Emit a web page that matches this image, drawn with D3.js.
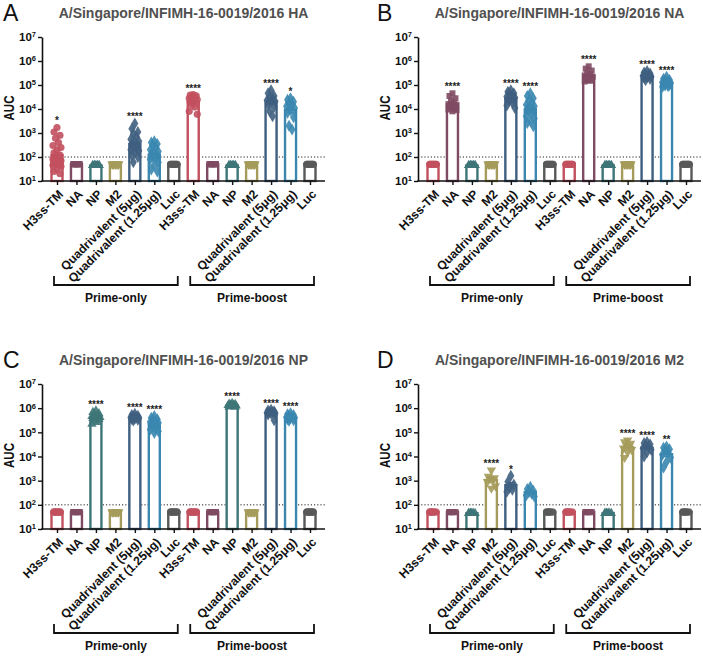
<!DOCTYPE html>
<html><head><meta charset="utf-8">
<script src="https://cdn.jsdelivr.net/npm/d3@7"></script>
<style>body{margin:0;background:#fff}svg{display:block;font-family:"Liberation Sans",Arial,sans-serif}</style>
</head><body><svg id="c" width="703" height="656"></svg>
<script>
const categories = ["H3ss-TM","NA","NP","M2","Quadrivalent (5μg)","Quadrivalent (1.25μg)","Luc",
                    "H3ss-TM","NA","NP","M2","Quadrivalent (5μg)","Quadrivalent (1.25μg)","Luc"];
const groupLabels = ["Prime-only","Prime-boost"];
const yTicks = [1e1,1e2,1e3,1e4,1e5,1e6,1e7];
const cutoff = 100;

const haValues = [
  [1700,1100,800,600,400,300,250,200,150,120,100,90,80,70,60,55,50,50,50,45,40,30,25,20],
  [50,50,50,50,50,50,50,50,50,50],
  [45,45,45,45,45,45,45,45,45,45],
  [50,50,50,50,50,50,50,50,50,50],
  [2500,1500,1100,900,700,550,450,400,350,300,260,220,200,180,150,120,100,60],
  [450,400,350,300,250,200,170,150,130,110,100,90,80,60,45,30,25],
  [50,50,50,50,50,50,50,50,50,50],
  [40000,38000,35000,32000,30000,28000,25000,22000,20000,18000,15000,12000,8000,6000],
  [50,50,50,50,50,50,50,50,50,50],
  [45,45,45,45,45,45,45,45,45,45],
  [50,50,50,50,50,50,50,50,50,50],
  [60000,45000,35000,30000,26000,23000,21000,19000,16000,12000,8000,5000],
  [28000,24000,20000,17000,15000,13000,11000,9000,7000,4500,2000,1400],
  [50,50,50,50,50,50,50,50,50,50]
];
const haStars = ["*","","","","****","","","****","","","","****","*",""];

const naValues = [
  [50,50,50,50,50,50,50,50,50,50],
  [45000,35000,28000,22000,18000,16000,15000,14000,13000,12000,11000,10000,9500,9000,8000],
  [45,45,45,45,45,45,45,45,45,45],
  [50,50,50,50,50,50,50,50,50,50],
  [60000,52000,45000,40000,36000,33000,30000,28000,26000,24000,22000,18000,14000,11000],
  [45000,35000,28000,22000,18000,15000,13000,11000,10000,9000,8000,6500,5000,4000,3200,2600,1900],
  [50,50,50,50,50,50,50,50,50,50],
  [50,50,50,50,50,50,50,50,50,50],
  [600000,480000,400000,330000,280000,250000,220000,200000,180000,170000,160000,150000,140000],
  [45,45,45,45,45,45,45,45,45,45],
  [50,50,50,50,50,50,50,50,50,50],
  [380000,330000,300000,280000,260000,240000,220000,210000,200000,180000,160000],
  [220000,180000,160000,150000,140000,130000,120000,115000,110000,100000,95000,90000,85000],
  [50,50,50,50,50,50,50,50,50,50]
];
const naStars = ["","****","","","****","****","","","****","","","****","****",""];

const npValues = [
  [50,50,50,50,50,50,50,50,50,50],
  [50,50,50,50,50,50,50,50,50,50],
  [780000,680000,600000,550000,500000,460000,420000,400000,380000,350000,300000,260000,220000],
  [50,50,50,50,50,50,50,50,50,50],
  [580000,520000,480000,450000,430000,410000,390000,370000,350000,330000,310000],
  [470000,400000,350000,320000,290000,270000,250000,230000,210000,190000,170000,150000,130000,110000,95000],
  [50,50,50,50,50,50,50,50,50,50],
  [50,50,50,50,50,50,50,50,50,50],
  [50,50,50,50,50,50,50,50,50,50],
  [1600000,1500000,1450000,1400000,1350000,1300000,1250000,1200000,1150000,1100000],
  [50,50,50,50,50,50,50,50,50,50],
  [850000,800000,750000,700000,680000,650000,620000,600000,550000,320000],
  [620000,560000,520000,480000,450000,420000,400000,380000,350000,320000,300000],
  [50,50,50,50,50,50,50,50,50,50]
];
const npStars = ["","","****","","****","****","","","","****","","****","****",""];

const m2Values = [
  [50,50,50,50,50,50,50,50],
  [50,50,50,50,50,50,50,50],
  [45,45,45,45,45,45,45,45],
  [2700,1500,1300,1200,1100,900,600,480],
  [1600,900,700,500,420,350],
  [560,450,380,330,290,250,220],
  [50,50,50,50,50,50,50,50],
  [50,50,50,50,50,50,50,50],
  [50,50,50,50,50,50,50,50],
  [45,45,45,45,45,45,45,45],
  [47000,40000,35000,30000,26000,22000,19000,15000,9000],
  [40000,36000,32000,28000,25000,22000,19000,15000,10000],
  [26000,23000,20000,18000,15000,12000,9000,6000,3500],
  [50,50,50,50,50,50,50,50]
];
const m2Stars = ["","","","****","*","","","","","","****","****","**",""];

const panels = [
  {letter:"A", title:"A/Singapore/INFIMH-16-0019/2016 HA", values:haValues, stars:haStars},
  {letter:"B", title:"A/Singapore/INFIMH-16-0019/2016 NA", values:naValues, stars:naStars},
  {letter:"C", title:"A/Singapore/INFIMH-16-0019/2016 NP", values:npValues, stars:npStars},
  {letter:"D", title:"A/Singapore/INFIMH-16-0019/2016 M2", values:m2Values, stars:m2Stars}
];

// styling
const colors = ["#c2505e","#7f4a63","#3e7678","#a59b5b","#3f5f80","#3a87b0","#595959"];
const shapes = ["circle","square","tri","tridown","diamond","diamond","circle"];
const layout = [
  {ox:42, top:37, bottom:181, ly:0},
  {ox:418, top:37, bottom:181, ly:0},
  {ox:42, top:384, bottom:529, ly:347},
  {ox:418, top:384, bottom:529, ly:347}
];
const plotW = 283;

const svg = d3.select("#c");

function symbolPath(shape){
  if(shape==="circle") return d3.symbol(d3.symbolCircle, 40)();
  if(shape==="square") return d3.symbol(d3.symbolSquare, 36)();
  if(shape==="diamond") return d3.symbol(d3.symbolDiamond, 42)();
  return d3.symbol(d3.symbolTriangle, 38)();
}

panels.forEach((p, pi) => {
  const L = layout[pi];
  const g = svg.append("g");
  const y = d3.scaleLog().domain([1e1,1e7]).range([L.bottom, L.top]);
  const x = d3.scalePoint().domain(d3.range(categories.length)).range([L.ox+15, L.ox+268]);

  // letter + title
  g.append("text").attr("x", pi%2===0 ? 3 : 377).attr("y", L.ly+21)
    .attr("font-size", 23).attr("fill","#111").text(p.letter);
  g.append("text").attr("x", L.ox + plotW/2).attr("y", L.ly+18).attr("text-anchor","middle")
    .attr("font-size", 14).attr("font-weight","bold").attr("fill","#505050").text(p.title);

  // AUC label
  g.append("text").attr("transform", `translate(${L.ox-28},${(L.top+L.bottom)/2 - 1}) rotate(-90)`)
    .attr("text-anchor","middle").attr("font-size",14).attr("font-weight","bold").attr("fill","#111")
    .attr("textLength", 25).attr("lengthAdjust","spacingAndGlyphs").text("AUC");

  // dotted cutoff
  g.append("line").attr("x1", L.ox).attr("x2", L.ox+plotW)
    .attr("y1", y(cutoff)).attr("y2", y(cutoff))
    .attr("stroke","#222").attr("stroke-width",1).attr("stroke-dasharray","1.2,2");

  // bars
  const stats = p.values.map(vals => {
    const lv = vals.map(v => Math.log10(v));
    const m = d3.mean(lv);
    const sd = lv.length > 1 ? d3.deviation(lv) : 0;
    const sem = sd / Math.sqrt(lv.length);
    return {gm: Math.pow(10,m), lo: Math.pow(10,m-sem), hi: Math.pow(10,m+sem), max: d3.max(vals)};
  });

  stats.forEach((s, i) => {
    const c = colors[i%7];
    g.append("rect").attr("x", x(i)-5.5).attr("width", 11)
      .attr("y", y(s.gm)).attr("height", L.bottom - y(s.gm))
      .attr("fill","#fff").attr("stroke", c).attr("stroke-width", 2.4);
  });

  // points
  p.values.forEach((vals, i) => {
    const c = colors[i%7];
    const shape = shapes[i%7];
    const allSame = d3.min(vals) === d3.max(vals);
    const sorted = vals.slice().sort((a,b)=>b-a);
    sorted.forEach((v, j) => {
      const off = allSame ? ((j%5)-2)*1.6 : [0,-3,3,-1.5,1.5,-4,4][j%7];
      const tr = `translate(${x(i)+off},${y(v)})` + (shape==="tridown" ? " rotate(180)" : "");
      g.append("path").attr("d", symbolPath(shape)).attr("transform", tr)
        .attr("fill", c).attr("fill-opacity", 0.9);
    });
  });

  // error bars
  stats.forEach((s, i) => {
    if (s.hi/s.lo < 1.001) return;
    const c = colors[i%7];
    const cx = x(i);
    g.append("path").attr("d", `M${cx},${y(s.lo)}V${y(s.hi)}M${cx-3.5},${y(s.lo)}H${cx+3.5}M${cx-3.5},${y(s.hi)}H${cx+3.5}`)
      .attr("stroke", c).attr("stroke-width", 1.5).attr("fill","none");
  });

  // stars
  stats.forEach((s, i) => {
    if (!p.stars[i]) return;
    g.append("text").attr("x", x(i)).attr("y", y(s.max) - 3).attr("text-anchor","middle")
      .attr("font-size", 10).attr("font-weight","bold").attr("fill","#222").text(p.stars[i]);
  });

  // y axis
  const ya = g.append("g").attr("transform", `translate(${L.ox},0)`)
    .call(d3.axisLeft(y).tickValues(yTicks).tickSize(4).tickSizeOuter(0).tickPadding(2).tickFormat(d => ""));
  ya.select(".domain").attr("stroke","#111").attr("stroke-width",1.6);
  ya.selectAll(".tick line").attr("stroke","#111").attr("stroke-width",1.4);
  ya.selectAll(".tick text").each(function(d){
    const t = d3.select(this).attr("font-size", 11.5).attr("font-weight","bold").attr("fill","#111")
      .attr("font-family","'Liberation Sans',Arial,sans-serif");
    t.append("tspan").text("10");
    t.append("tspan").attr("dy","-0.5em").attr("font-size", 7.5).text(Math.round(Math.log10(d)));
  });

  // x axis
  g.append("line").attr("x1", L.ox-0.8).attr("x2", L.ox+plotW).attr("y1", L.bottom).attr("y2", L.bottom)
    .attr("stroke","#111").attr("stroke-width",1.6);
  const xa = g.append("g").attr("transform", `translate(0,${L.bottom})`)
    .call(d3.axisBottom(x).tickSize(4).tickSizeOuter(0).tickFormat(""));
  xa.select(".domain").remove();
  xa.selectAll(".tick line").attr("stroke","#111").attr("stroke-width",1.4);

  categories.forEach((cat, i) => {
    g.append("text").attr("transform", `translate(${x(i)+4},${L.bottom+11}) rotate(-45)`)
      .attr("text-anchor","end").attr("dy","0.35em")
      .attr("font-size", 12.2).attr("font-weight","bold").attr("fill","#111").text(cat);
  });

  // brackets
  [[0,6],[7,13]].forEach((r, k) => {
    const x1 = x(r[0]) - 3, x2 = x(r[1]) + 4;
    const yb = L.bottom + 104;
    g.append("path").attr("d", `M${x1},${yb-9}V${yb}H${x2}V${yb-9}`)
      .attr("stroke","#111").attr("stroke-width",1.8).attr("fill","none");
    g.append("text").attr("x", (x1+x2)/2).attr("y", L.bottom + 121).attr("text-anchor","middle")
      .attr("font-size", 12).attr("font-weight","bold").attr("fill","#111").text(groupLabels[k]);
  });
});
</script></body></html>
